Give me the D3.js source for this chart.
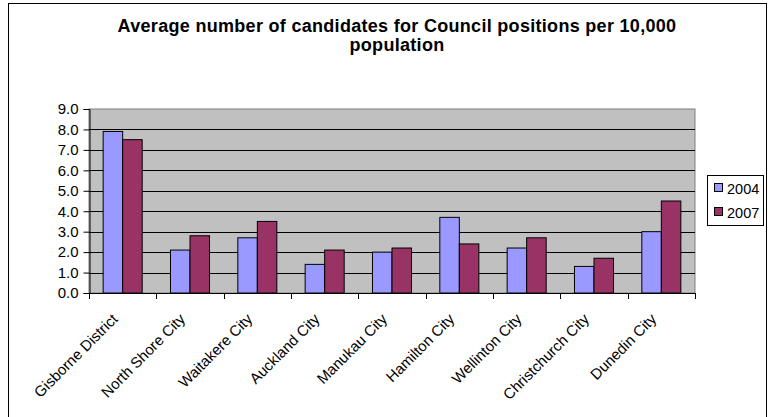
<!DOCTYPE html>
<html>
<head>
<meta charset="utf-8">
<script src="https://cdn.jsdelivr.net/npm/d3@7"></script>
<style>
  html, body { margin: 0; padding: 0; background: #fff; }
  svg { display: block; font-family: "Liberation Sans", Arial, sans-serif; }
</style>
</head>
<body>
<svg id="chart" width="770" height="417"></svg>
<script>
// Candidates per 10,000 population, by council
const categories = ["Gisborne District", "North Shore City", "Waitakere City", "Auckland City",
  "Manukau City", "Hamilton City", "Wellinton City", "Christchurch City", "Dunedin City"];
const seriesNames = ["2004", "2007"];
const values2004 = [7.9, 2.1, 2.7, 1.4, 2.0, 3.7, 2.2, 1.3, 3.0];
const values2007 = [7.5, 2.8, 3.5, 2.1, 2.2, 2.4, 2.7, 1.7, 4.5];
const yTicks = [0, 1, 2, 3, 4, 5, 6, 7, 8, 9];
const colors = ["#9999FF", "#993366"];
const titleLines = ["Average number of candidates for Council positions per 10,000", "population"];

const svg = d3.select("#chart");

// outer chart frame
svg.append("rect").attr("x", 8.5).attr("y", 3.5).attr("width", 758).attr("height", 420)
  .attr("fill", "#fff").attr("stroke", "#000").attr("stroke-width", 1);

const plot = { left: 89, right: 695, top: 109, bottom: 293 };

const x0 = d3.scaleBand().domain(categories).range([plot.left, plot.right]).paddingInner(0).paddingOuter(0);
const y = d3.scaleLinear().domain([0, 9]).range([plot.bottom, plot.top]);

// plot background
svg.append("rect")
  .attr("x", plot.left).attr("y", plot.top)
  .attr("width", plot.right - plot.left).attr("height", plot.bottom - plot.top)
  .attr("fill", "#C0C0C0").attr("stroke", "#808080").attr("stroke-width", 1);

// horizontal gridlines
svg.append("g").selectAll("line")
  .data(yTicks.filter(t => t > 0 && t < 9))
  .join("line")
  .attr("x1", plot.left).attr("x2", plot.right)
  .attr("y1", d => Math.round(y(d)) + 0.5).attr("y2", d => Math.round(y(d)) + 0.5)
  .attr("stroke", "#000").attr("stroke-width", 1);

// grouped bars: bar width ~ band / (2 + 1.45 gap)
const groupWidth = x0.bandwidth() * 2 / 3.45;
const x1 = d3.scaleBand().domain(seriesNames).range([0, groupWidth]);
const seriesValues = [values2004, values2007];

const groups = svg.append("g").selectAll("g")
  .data(categories)
  .join("g")
  .attr("transform", d => `translate(${x0(d) + (x0.bandwidth() - groupWidth) / 2},0)`);

groups.selectAll("rect")
  .data((d, i) => seriesNames.map((s, k) => ({ s, v: seriesValues[k][i], k })))
  .join("rect")
  .attr("x", d => x1(d.s))
  .attr("y", d => y(d.v))
  .attr("width", x1.bandwidth())
  .attr("height", d => y(0) - y(d.v))
  .attr("fill", d => colors[d.k])
  .attr("stroke", "#000").attr("stroke-width", 1);

// y axis
const yAxis = d3.axisLeft(y).tickValues(yTicks).tickFormat(d3.format(".1f")).tickSize(6).tickPadding(5);
const gy = svg.append("g").attr("transform", `translate(${plot.left + 0.5},0)`).call(yAxis);
gy.select(".domain").attr("stroke", "#000");
gy.selectAll(".tick line").attr("stroke", "#000");
gy.selectAll(".tick text").attr("font-size", 15).attr("fill", "#000")
  .attr("font-family", "'Liberation Sans', Arial, sans-serif");

// x axis: ticks on category boundaries
const boundaries = categories.map(c => x0(c)).concat([plot.right]);
const gx = svg.append("g");
gx.append("line").attr("x1", plot.left).attr("x2", plot.right)
  .attr("y1", plot.bottom + 0.5).attr("y2", plot.bottom + 0.5).attr("stroke", "#000");
gx.selectAll("line.tk").data(boundaries).join("line").attr("class", "tk")
  .attr("x1", d => Math.round(d) + 0.5).attr("x2", d => Math.round(d) + 0.5)
  .attr("y1", plot.bottom).attr("y2", plot.bottom + 6).attr("stroke", "#000");

gx.selectAll("text").data(categories).join("text")
  .attr("transform", d => `translate(${x0(d) + x0.bandwidth() / 2 - 4},${plot.bottom + 27}) rotate(-45)`)
  .attr("text-anchor", "end")
  .attr("font-size", 15)
  .attr("fill", "#000")
  .text(d => d);

// title
svg.append("g").selectAll("text").data(titleLines).join("text")
  .attr("x", 397).attr("y", (d, i) => 32 + i * 19)
  .attr("text-anchor", "middle")
  .attr("font-size", 18).attr("font-weight", "bold").attr("letter-spacing", 0.3).attr("fill", "#000")
  .text(d => d);

// legend
const legend = svg.append("g").attr("transform", "translate(707,175)");
legend.append("rect").attr("x", 0.5).attr("y", 0.5).attr("width", 56).attr("height", 50)
  .attr("fill", "#fff").attr("stroke", "#000");
const items = legend.selectAll("g.item").data(seriesNames).join("g").attr("class", "item")
  .attr("transform", (d, i) => `translate(7,${13 + i * 24})`);
items.append("rect").attr("x", 0.5).attr("y", -4.5).attr("width", 8).attr("height", 8)
  .attr("fill", (d, i) => colors[i]).attr("stroke", "#000");
items.append("text").attr("x", 13).attr("y", 5.5).attr("font-size", 14.5).attr("fill", "#000").text(d => d);
</script>
</body>
</html>
